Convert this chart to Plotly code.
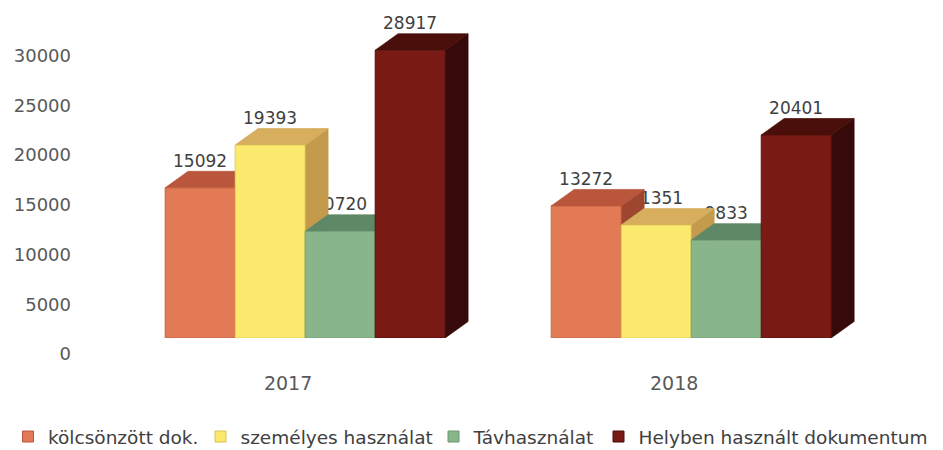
import plotly.graph_objects as go

# ---------------- data ----------------
categories = ["2017", "2018"]
series_names = ["kölcsönzött dok.", "személyes használat", "Távhasználat",
                "Helyben használt dokumentum"]
kolcsonzott = [15092, 13272]
szemelyes = [19393, 11351]
tavhasznalat = [10720, 9833]
helyben = [28917, 20401]
y_tick_vals = [0, 5000, 10000, 15000, 20000, 25000, 30000]
y_tick_text = [str(v) for v in y_tick_vals]

# ---------------- styles ----------------
front_colors = ["#E27A55", "#FCEA6E", "#88B68A", "#7A1A14"]
top_colors = ["#B9563C", "#D6AE5E", "#5F8866", "#4A0F0A"]
side_colors = ["#9E4630", "#C49A4C", "#4F7556", "#36090A"]
edge_colors = ["#B8573C", "#D8C250", "#6C9870", "#4A0F0A"]

# the page body adds an 8px offset, so the figure is laid out 8px smaller
OFF = 8
W, H = 943 - OFF, 450 - OFF
ML, MR, MT, MB = 72, 43, 12, 112
X_RANGE = [-0.583, 1.541]
Y_RANGE = [0, 31960]
PX_X = (W - ML - MR) / (X_RANGE[1] - X_RANGE[0])
PX_Y = (H - MT - MB) / (Y_RANGE[1] - Y_RANGE[0])
BAR_W = 70 / PX_X
DX = 23 / PX_X
DY = 16.5 / PX_Y
LABEL_UP = 9 / PX_Y
legend_text_px = [45, 240, 473, 638]   # screen x of each legend text start
LEGEND_Y_PX = 437

series_values = [kolcsonzott, szemelyes, tavhasznalat, helyben]
n_series = len(series_values)

fig = go.Figure()

# value labels first (so later bar faces can overlap them as in the original)
for c, cat in enumerate(categories):
    for i, vals in enumerate(series_values):
        v = vals[c]
        x0 = c + (i - n_series / 2) * BAR_W
        fig.add_trace(go.Scatter(
            x=[x0 + BAR_W / 2], y=[v + DY + LABEL_UP], mode="text",
            text=[str(v)], textposition="middle center",
            textfont=dict(family="DejaVu Sans", size=17, color="#404040"),
            showlegend=False, hoverinfo="skip", cliponaxis=False))

# 3D bars: side, top, front for each bar, left to right
for c, cat in enumerate(categories):
    for i, vals in enumerate(series_values):
        v = vals[c]
        x0 = c + (i - n_series / 2) * BAR_W
        x1 = x0 + BAR_W
        side_x = [x1, x1 + DX, x1 + DX, x1, x1]
        side_y = [0, DY, v + DY, v, 0]
        top_x = [x0, x1, x1 + DX, x0 + DX, x0]
        top_y = [v, v, v + DY, v + DY, v]
        front_x = [x0, x1, x1, x0, x0]
        front_y = [0, 0, v, v, 0]
        for xs, ys, col, edge in ((side_x, side_y, side_colors[i], side_colors[i]),
                                  (top_x, top_y, top_colors[i], top_colors[i]),
                                  (front_x, front_y, front_colors[i], edge_colors[i])):
            fig.add_trace(go.Scatter(
                x=xs, y=ys, mode="lines", fill="toself", fillcolor=col,
                line=dict(color=edge, width=0.7),
                showlegend=False, hoverinfo="skip", cliponaxis=False))

# legend entries, one small legend each so they can be spaced like the original
legend_layouts = {}
for i, name in enumerate(series_names):
    lname = "legend" if i == 0 else f"legend{i + 1}"
    fig.add_trace(go.Scatter(
        x=[None], y=[None], mode="markers", name=name, legend=lname,
        marker=dict(symbol="square", size=11, color=front_colors[i],
                    line=dict(color=edge_colors[i], width=1))))
    legend_layouts[lname] = dict(
        orientation="h", xref="container", yref="container",
        x=(legend_text_px[i] - OFF - 39.5) / W, xanchor="left",
        y=1 - (LEGEND_Y_PX - OFF) / H, yanchor="middle",
        font=dict(family="DejaVu Sans", size=18.5, color="#404040"),
        itemwidth=30, bgcolor="rgba(0,0,0,0)", borderwidth=0)

fig.update_layout(
    width=W, height=H,
    margin=dict(l=ML, r=MR, t=MT, b=MB, autoexpand=False),
    paper_bgcolor="white", plot_bgcolor="white",
    showlegend=True,
    xaxis=dict(range=X_RANGE, tickvals=list(range(len(categories))), ticktext=categories,
               showgrid=False, zeroline=False, showline=False, ticks="", automargin=False,
               tickfont=dict(family="DejaVu Sans", size=19, color="#595959"),
               ticklabelshift=-17, ticklabelstandoff=32),
    yaxis=dict(range=Y_RANGE, tickvals=y_tick_vals, ticktext=y_tick_text,
               showgrid=False, zeroline=False, showline=False, ticks="", automargin=False,
               tickfont=dict(family="DejaVu Sans", size=18, color="#595959"),
               ticklabelshift=16, ticklabelstandoff=8),
    **legend_layouts,
)

fig.write_html("out.html")
